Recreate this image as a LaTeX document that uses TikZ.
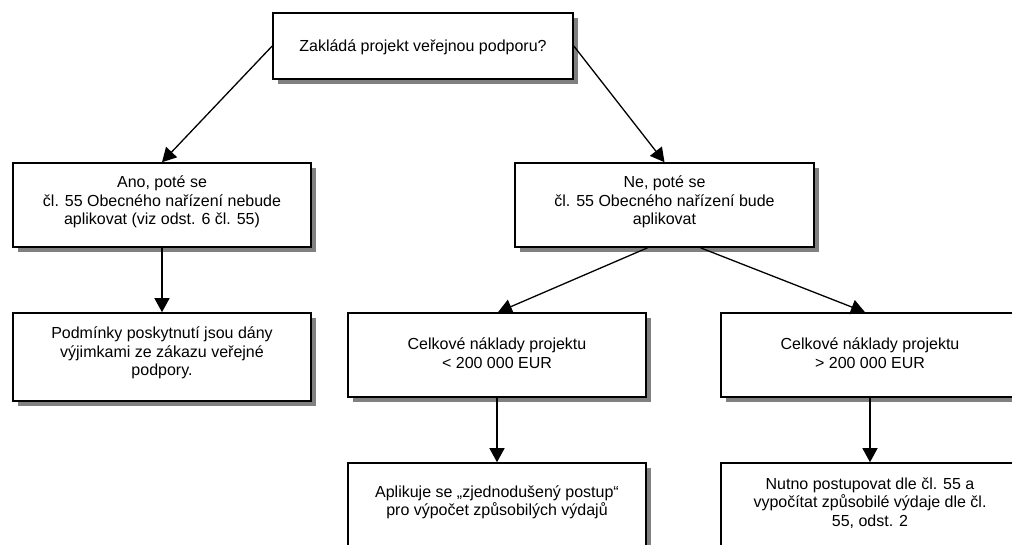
\documentclass[tikz,border=0pt]{standalone}
\usepackage{fontspec}
\setmainfont{Liberation Sans}
\usetikzlibrary{shadows,arrows.meta,calc}
\begin{document}
\begin{tikzpicture}[x=1pt,y=-1pt,
  box/.style={draw=black, fill=white, line width=1.6pt, inner sep=0pt,
    drop shadow={shadow xshift=5pt, shadow yshift=-5pt, fill=black!50, opacity=1}},
  txt/.style={align=center, font=\fontsize{16}{18.4}\selectfont, inner sep=0pt},
  arr/.style={line width=1.3pt, -{Triangle[length=14pt,width=15pt]}}]
\useasboundingbox (0,0) rectangle (1012,544);
\clip (0,0) rectangle (1012,544);
% boxes
\node[box, minimum width=300pt, minimum height=66pt] (top) at (423,46) {};
\node[box, minimum width=298pt, minimum height=84pt] (ano) at (162,205) {};
\node[box, minimum width=299pt, minimum height=84pt] (ne) at (664.5,205) {};
\node[box, minimum width=298pt, minimum height=88pt] (podm) at (162,357) {};
\node[box, minimum width=298pt, minimum height=84pt] (mensi) at (497,355) {};
\node[box, minimum width=298pt, minimum height=84pt] (vetsi) at (870,355) {};
\node[box, minimum width=298pt, minimum height=88pt] (aplik) at (497,507) {};
\node[box, minimum width=298pt, minimum height=88pt] (nutno) at (870,507) {};
% texts
\node[txt] (ttop) at (423,47) {Zakládá projekt veřejnou podporu?};
\node[txt] (tano) at (162,202) {Ano, poté se\\čl. 55 Obecného nařízení nebude\\aplikovat (viz odst. 6 čl. 55)};
\node[txt] (tne) at (664.5,202) {Ne, poté se\\čl. 55 Obecného nařízení bude\\aplikovat};
\node[txt] (tpodm) at (162,353) {Podmínky poskytnutí jsou dány\\výjimkami ze zákazu veřejné\\podpory.};
\node[txt] (tmensi) at (497,353) {Celkové náklady projektu\\< 200 000 EUR};
\node[txt] (tvetsi) at (870,353) {Celkové náklady projektu\\> 200 000 EUR};
\node[txt] (taplik) at (497,502) {Aplikuje se „zjednodušený postup“\\pro výpočet způsobilých výdajů};
\node[txt] (tnutno) at (870,503) {Nutno postupovat dle čl. 55 a\\vypočítat způsobilé výdaje dle čl.\\55, odst. 2};
% connectors
\draw[arr] (top.west) -- (ano.north);
\draw[arr] (top.east) -- (ne.north);
\draw[arr] (ano.south) -- (podm.north);
\draw[arr] ($(ne.south)+(-17,0)$) -- ($(mensi.north)+(1,0)$);
\draw[arr] ($(ne.south)+(36,0)$) -- ($(vetsi.north)+(-5,0)$);
\draw[arr] (mensi.south) -- (aplik.north);
\draw[arr] (vetsi.south) -- (nutno.north);
\end{tikzpicture}
\end{document}
